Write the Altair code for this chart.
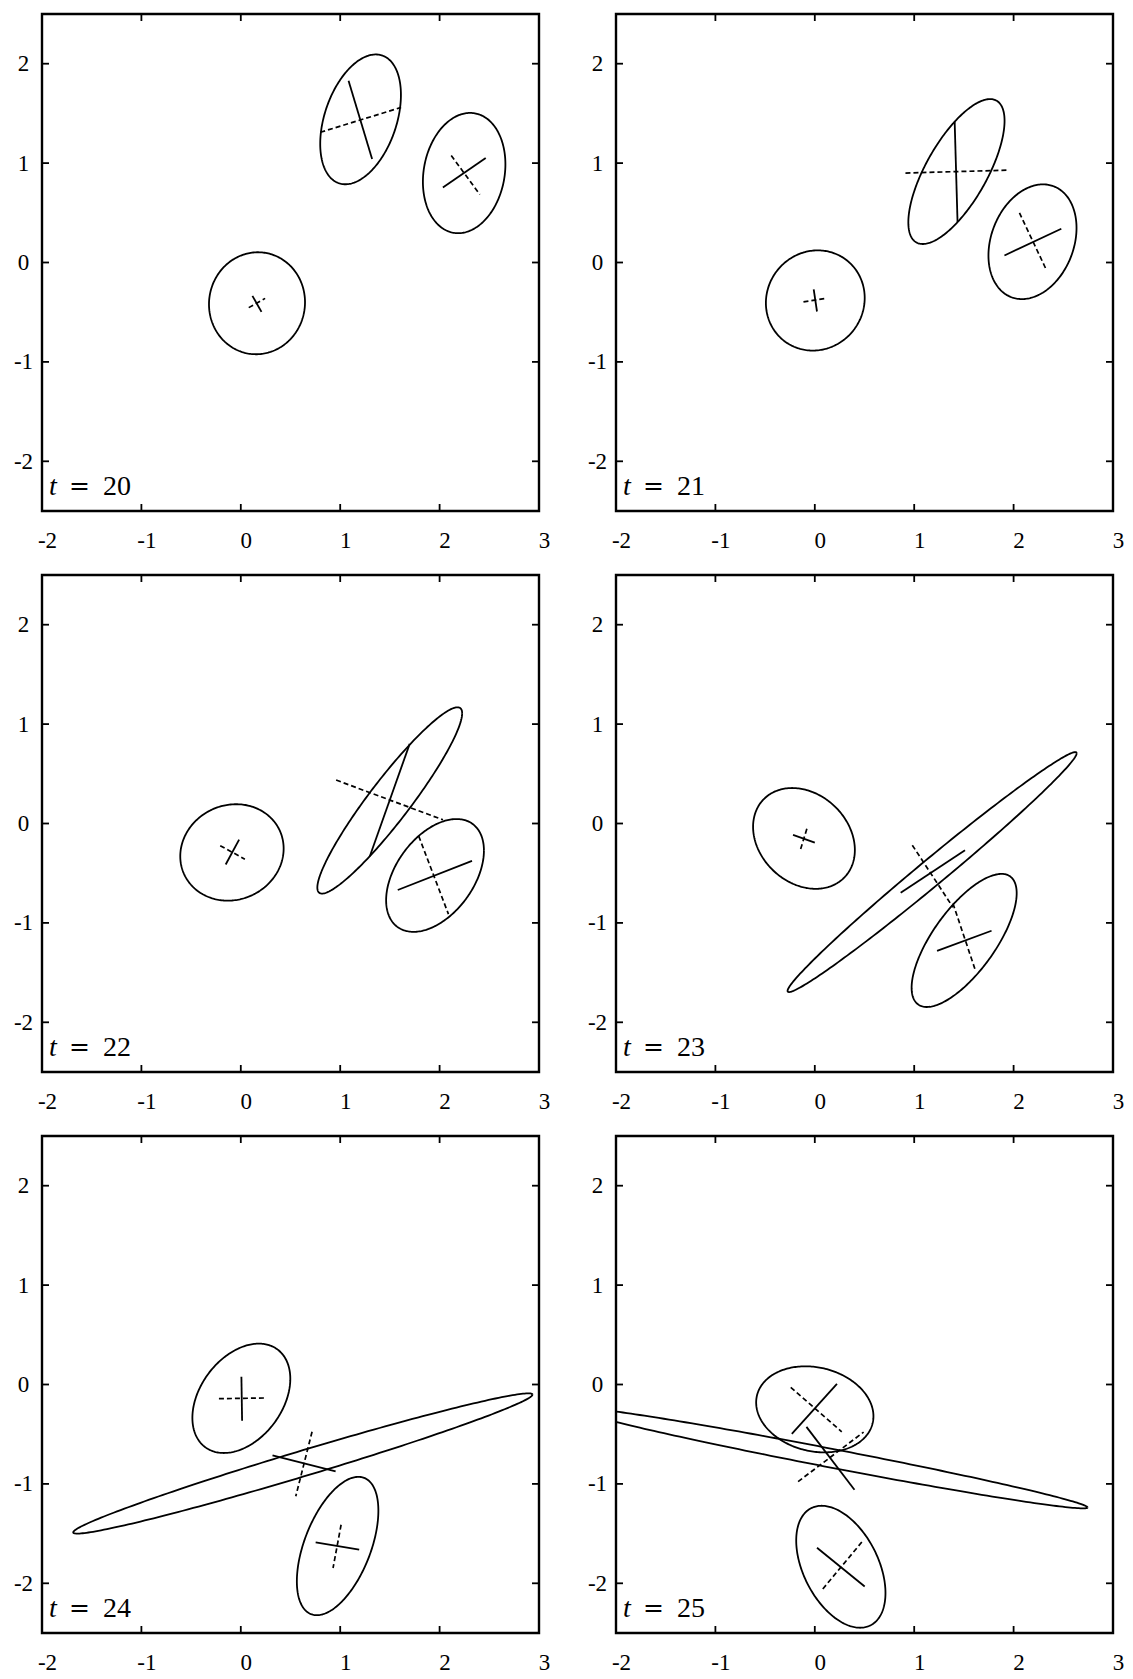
import numpy as np
import pandas as pd
import altair as alt

# ---------------- data ----------------
panel_ids = [20, 21, 22, 23, 24, 25]

# ellipses: centre, half-width, half-height, correlation
ell_panel = [20, 20, 20, 21, 21, 21, 22, 22, 22, 23, 23, 23, 24, 24, 24, 25, 25, 25]
ell_cx = [0.163, 1.205, 2.247, 0.005, 1.425, 2.19, -0.089, 1.4985, 1.954,
          -0.109, 1.18, 1.5025, 0.0055, 0.624, 0.974, 0.0, 0.16, 0.262]
ell_cy = [-0.41, 1.44, 0.90, -0.382, 0.915, 0.209, -0.291, 0.232, -0.5225,
          -0.15, -0.489, -1.1765, -0.139, -0.7945, -1.625, -0.25, -0.74, -1.8335]
ell_sx = [0.483, 0.406, 0.415, 0.497, 0.484, 0.443, 0.52, 0.7285, 0.492,
          0.512, 1.454, 0.5285, 0.4925, 2.31, 0.41, 0.59, 2.584, 0.449]
ell_sy = [0.513, 0.653, 0.605, 0.504, 0.729, 0.577, 0.485, 0.937, 0.5675,
          0.507, 1.207, 0.6695, 0.55, 0.7055, 0.696, 0.433, 0.506, 0.6135]
ell_rho = [0.02, 0.377, 0.145, 0.05, 0.70, 0.24, 0.08, 0.935, 0.44,
           -0.23, 0.99, 0.71, 0.357, 0.982, 0.51, -0.16, -0.982, -0.43]

# cross segments inside the ellipses
seg_panel = [20] * 6 + [21] * 6 + [22] * 6 + [23] * 6 + [24] * 6 + [25] * 6
seg_style = ["solid", "dashed"] * 18
seg_x1 = [0.117, 0.08, 1.084, 0.80, 2.033, 2.117,
          -0.011, -0.114, 1.407, 0.912, 1.908, 2.059,
          -0.017, -0.207, 1.298, 0.959, 1.579, 1.79,
          -0.219, -0.08, 0.864, 0.981, 1.23, 1.39,
          0.006, -0.22, 0.319, 0.717, 0.753, 1.009,
          0.223, -0.242, -0.084, -0.168, 0.022, 0.473]
seg_y1 = [-0.336, -0.454, 1.828, 1.31, 0.755, 1.077,
          -0.271, -0.396, 1.418, 0.90, 0.071, 0.50,
          -0.162, -0.223, -0.33, 0.437, -0.669, -0.127,
          -0.114, -0.054, -0.696, -0.218, -1.282, -0.804,
          0.079, -0.143, -0.714, -0.475, -1.589, -1.411,
          0.007, -0.029, -0.426, -0.977, -1.642, -1.585]
seg_x2 = [0.208, 0.245, 1.321, 1.613, 2.464, 2.405,
          0.022, 0.114, 1.436, 1.938, 2.48, 2.333,
          -0.152, 0.041, 1.699, 2.034, 2.326, 2.089,
          0.0, -0.146, 1.511, 1.39, 1.778, 1.61,
          0.013, 0.236, 0.954, 0.553, 1.191, 0.928,
          -0.231, 0.271, 0.399, 0.491, 0.502, 0.062]
seg_y2 = [-0.497, -0.361, 1.041, 1.56, 1.052, 0.683,
          -0.493, -0.361, 0.407, 0.929, 0.339, -0.082,
          -0.412, -0.359, 0.801, 0.037, -0.376, -0.912,
          -0.193, -0.268, -0.268, -0.843, -1.079, -1.461,
          -0.364, -0.136, -0.875, -1.125, -1.661, -1.846,
          -0.497, -0.476, -1.059, -0.479, -2.032, -2.079]

x_ticks = [-2, -1, 0, 1, 2, 3]
y_ticks = [-2, -1, 0, 1, 2]
inner_x_ticks = [-1, 0, 1, 2]
inner_y_ticks = [-2, -1, 0, 1, 2]

# ---------------- build tables ----------------
W, H = 497, 497
FONT = "Liberation Serif"

ang = np.linspace(0, 2 * np.pi, 241)
rows = []
for i, p in enumerate(ell_panel):
    d = np.arccos(ell_rho[i])
    xs = ell_cx[i] + ell_sx[i] * np.cos(ang)
    ys = ell_cy[i] + ell_sy[i] * np.cos(ang - d)
    for k in range(len(ang)):
        rows.append({"panel": p, "eid": i, "k": k, "x": xs[k], "y": ys[k]})
ell_df = pd.DataFrame(rows)

seg_df = pd.DataFrame({"panel": seg_panel, "style": seg_style,
                       "x1": seg_x1, "y1": seg_y1, "x2": seg_x2, "y2": seg_y2})

xt_df = pd.DataFrame({"v": inner_x_ticks})
yt_df = pd.DataFrame({"v": inner_y_ticks})

xscale = alt.Scale(domain=[-2, 3], nice=False, zero=False)
yscale = alt.Scale(domain=[-2.5, 2.5], nice=False, zero=False)

common = dict(title=None, ticks=False, tickSize=0, domain=False, grid=False,
              labelFlush=False, labelOverlap=False, labelFont=FONT,
              labelFontSize=23, labelColor="black", labelBaseline="middle")
xaxis = alt.Axis(values=x_ticks, labelExpr="'' + datum.value",
                 labelPadding=29, labelOffset=5, **common)
yaxis = alt.Axis(values=y_ticks, labelExpr="'' + datum.value",
                 labelPadding=19, labelAlign="center", **common)


def panel(p):
    e = ell_df[ell_df.panel == p]
    s = seg_df[seg_df.panel == p]
    ells = alt.Chart(e).mark_line(color="black", strokeWidth=1.8, clip=True).encode(
        x=alt.X("x:Q", scale=xscale, axis=xaxis),
        y=alt.Y("y:Q", scale=yscale, axis=yaxis),
        detail="eid:N",
        order="k:Q",
    )
    solid = alt.Chart(s[s["style"] == "solid"]).mark_rule(color="black", strokeWidth=1.8, clip=True).encode(
        x=alt.X("x1:Q", scale=xscale, axis=xaxis), y=alt.Y("y1:Q", scale=yscale, axis=yaxis),
        x2="x2:Q", y2="y2:Q")
    dashed = alt.Chart(s[s["style"] == "dashed"]).mark_rule(
        color="black", strokeWidth=1.7, strokeDash=[5, 3], clip=True).encode(
        x=alt.X("x1:Q", scale=xscale, axis=xaxis), y=alt.Y("y1:Q", scale=yscale, axis=yaxis),
        x2="x2:Q", y2="y2:Q")
    tb = alt.Chart(xt_df).mark_rule(color="black", strokeWidth=1.8).encode(
        x=alt.X("v:Q", scale=xscale, axis=xaxis), y=alt.value(H), y2=alt.value(H - 7))
    tt = alt.Chart(xt_df).mark_rule(color="black", strokeWidth=1.8).encode(
        x=alt.X("v:Q", scale=xscale, axis=xaxis), y=alt.value(0), y2=alt.value(7))
    tl = alt.Chart(yt_df).mark_rule(color="black", strokeWidth=1.8).encode(
        y=alt.Y("v:Q", scale=yscale, axis=yaxis), x=alt.value(0), x2=alt.value(7))
    tr = alt.Chart(yt_df).mark_rule(color="black", strokeWidth=1.8).encode(
        y=alt.Y("v:Q", scale=yscale, axis=yaxis), x=alt.value(W), x2=alt.value(W - 7))
    lab = pd.DataFrame({"t": ["t"], "eq": ["="], "n": [str(p)]})
    t1 = alt.Chart(lab).mark_text(font=FONT, fontSize=28, fontStyle="italic", align="left",
                                  baseline="alphabetic", color="black").encode(
        text="t:N", x=alt.value(7), y=alt.value(H - 16))
    t2 = alt.Chart(lab).mark_text(font="DejaVu Serif", fontSize=25, align="left",
                                  baseline="alphabetic", color="black").encode(
        text="eq:N", x=alt.value(27), y=alt.value(H - 17))
    t3 = alt.Chart(lab).mark_text(font=FONT, fontSize=28, align="left",
                                  baseline="alphabetic", color="black").encode(
        text="n:N", x=alt.value(61), y=alt.value(H - 16))
    return alt.layer(ells, solid, dashed, tb, tt, tl, tr, t1, t2, t3).properties(width=W, height=H)


chart = alt.concat(*[panel(p) for p in panel_ids], columns=2,
                   spacing={"row": 64, "column": 77}, bounds="flush").properties(
    padding={"left": 4, "top": 3, "right": 0, "bottom": 0}, background="white"
).configure_view(
    stroke="black", strokeWidth=2.4
)

chart.save("out.html", embed_options={"renderer": "svg", "actions": False})
